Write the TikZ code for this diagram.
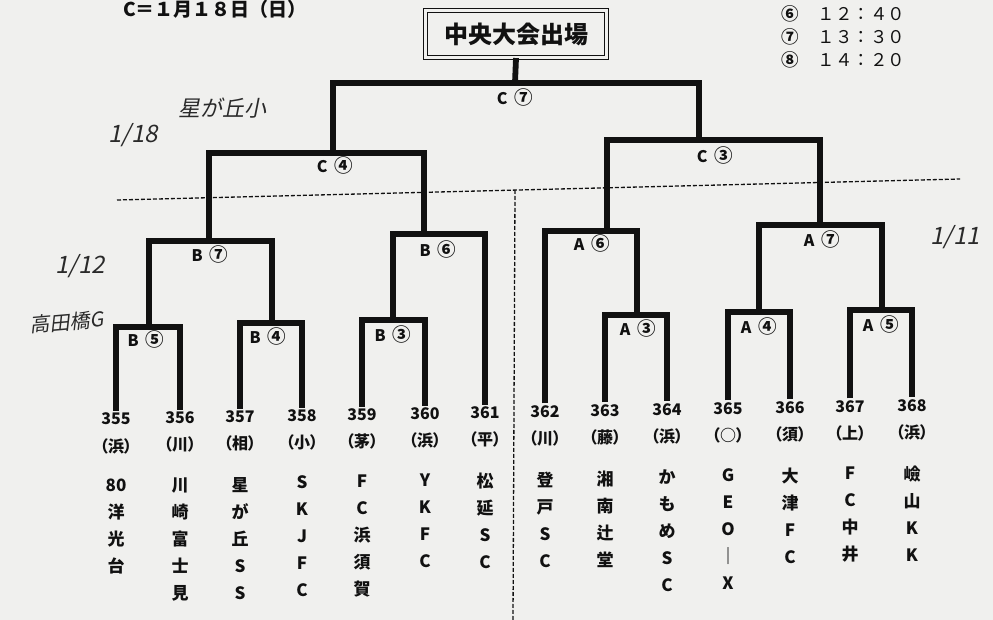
\documentclass[tikz,border=0pt]{standalone}
\usepackage{fontspec}
\setmainfont{Noto Sans CJK JP}
\newfontfamily\handfont[FakeSlant=0.2]{Noto Sans CJK JP}
\definecolor{paper}{HTML}{F0F0EE}
\definecolor{ink}{HTML}{111111}
\definecolor{pencil}{HTML}{2A2A2A}
\newcommand\teamcol[4]{%
  \pgfmathsetmacro\tcy{-0.017*(#2-117)}%
  \node[numtxt] (t#1) at (#2,{419+\tcy}) {#1};
  \node[preftxt] (p#1) at (#2,{446+\tcy}) {（#3）};
  \node[nametxt] (n#1) at (#2,{479+\tcy}) {#4};
}
\newcommand\cnum[1]{{\fontsize{18.5}{18.5}\selectfont #1}}
\begin{document}
\begin{tikzpicture}[x=1pt,y=-1pt,
  bracket/.style={draw=ink, line width=5.8pt, line join=miter},
  mlabel/.style={font=\bfseries\fontsize{16}{16}\selectfont, text=ink, inner sep=0pt},
  numtxt/.style={font=\bfseries\fontsize{16}{16}\selectfont, text=ink, inner sep=2pt},
  preftxt/.style={font=\bfseries\fontsize{16}{16}\selectfont\addfontfeature{RawFeature=+palt}, text=ink, inner sep=0pt},
  nametxt/.style={font=\bfseries\fontsize{17}{27}\selectfont, text=ink, align=center, anchor=north, inner sep=0pt},
  timetxt/.style={font=\fontsize{17.5}{17.5}\selectfont, text=ink, anchor=west, inner sep=0pt},
  hand/.style={font=\handfont\fontsize{22}{22}\selectfont, text=pencil, inner sep=0pt},
  divider/.style={draw=ink, line width=1.3pt, dash pattern=on 4pt off 2pt},
]
\fill[paper] (0,0) rectangle (993,620);
\useasboundingbox (0,0) rectangle (993,620);

% header texts
\node[font=\bfseries\fontsize{19}{19}\selectfont, text=ink, anchor=west, inner sep=0pt] (hdr) at (123,9) {C＝１月１８日（日）};
\node[timetxt] (tm6) at (781,14) {{\bfseries ⑥}\hspace{1.1em}１２：４０};
\node[timetxt] (tm7) at (781,37) {{\bfseries ⑦}\hspace{1.1em}１３：３０};
\node[timetxt] (tm8) at (781,60) {{\bfseries ⑧}\hspace{1.1em}１４：２０};

% title box
\node[draw=ink, double=paper, line width=1.1pt, double distance=2.2pt,
      minimum width=181pt, minimum height=47pt, inner sep=0pt,
      font=\bfseries\fontsize{24}{24}\selectfont, text=ink] (title) at (516,34) {中央大会出場};

% teams
\teamcol{355}{116}{浜}{80\\洋\\光\\台}
\teamcol{356}{180}{川}{川\\崎\\富\\士\\見}
\teamcol{357}{240}{相}{星\\が\\丘\\S\\S}
\teamcol{358}{302}{小}{S\\K\\J\\F\\C}
\teamcol{359}{362}{茅}{F\\C\\浜\\須\\賀}
\teamcol{360}{425}{浜}{Y\\K\\F\\C}
\teamcol{361}{485}{平}{松\\延\\S\\C}
\teamcol{362}{545}{川}{登\\戸\\S\\C}
\teamcol{363}{605}{藤}{湘\\南\\辻\\堂}
\teamcol{364}{667}{浜}{か\\も\\め\\S\\C}
\teamcol{365}{728}{○}{G\\E\\O\\｜\\X}
\teamcol{366}{790}{須}{大\\津\\F\\C}
\teamcol{367}{850}{上}{F\\C\\中\\井}
\teamcol{368}{912}{浜}{嶮\\山\\K\\K}

% match points
\coordinate (C7) at (515,83);
\coordinate (C4) at (333,153);
\coordinate (C3) at (699,140);
\coordinate (B7) at (209,241);
\coordinate (B6) at (424,234);
\coordinate (B5) at (149,327);
\coordinate (B4) at (272,323);
\coordinate (B3) at (393,320);
\coordinate (A6) at (607,231);
\coordinate (A7) at (820,225);
\coordinate (A3) at (637,315);
\coordinate (A4) at (759,312);
\coordinate (A5) at (882,310);

% brackets
\draw[bracket] (title.south) -- (C7);
\draw[bracket] (C4) |- (C7) -| (C3);
\draw[bracket] (B7) |- (C4) -| (B6);
\draw[bracket] (B5) |- (B7) -| (B4);
\draw[bracket] (t355.north) |- (B5) -| (t356.north);
\draw[bracket] (t357.north) |- (B4) -| (t358.north);
\draw[bracket] (B3) |- (B6) -| (t361.north);
\draw[bracket] (t359.north) |- (B3) -| (t360.north);
\draw[bracket] (A6) |- (C3) -| (A7);
\draw[bracket] (t362.north) |- (A6) -| (A3);
\draw[bracket] (t363.north) |- (A3) -| (t364.north);
\draw[bracket] (A4) |- (A7) -| (A5);
\draw[bracket] (t365.north) |- (A4) -| (t366.north);
\draw[bracket] (t367.north) |- (A5) -| (t368.north);

% match labels
\node[mlabel] (lC7) at (515,97) {C\hspace{0.45em}\cnum{⑦}};
\node[mlabel] (lC4) at (335,165) {C\hspace{0.45em}\cnum{④}};
\node[mlabel] (lC3) at (715,155) {C\hspace{0.45em}\cnum{③}};
\node[mlabel] (lB7) at (210,254) {B\hspace{0.45em}\cnum{⑦}};
\node[mlabel] (lB6) at (438,249) {B\hspace{0.45em}\cnum{⑥}};
\node[mlabel] (lB5) at (146,339) {B\hspace{0.45em}\cnum{⑤}};
\node[mlabel] (lB4) at (268,336) {B\hspace{0.45em}\cnum{④}};
\node[mlabel] (lB3) at (393,334) {B\hspace{0.45em}\cnum{③}};
\node[mlabel] (lA6) at (592,243) {A\hspace{0.45em}\cnum{⑥}};
\node[mlabel] (lA7) at (822,239) {A\hspace{0.45em}\cnum{⑦}};
\node[mlabel] (lA3) at (638,328) {A\hspace{0.45em}\cnum{③}};
\node[mlabel] (lA4) at (759,326) {A\hspace{0.45em}\cnum{④}};
\node[mlabel] (lA5) at (881,324) {A\hspace{0.45em}\cnum{⑤}};

% dividers
\coordinate (dL) at (117,200);
\coordinate (dR) at (960,179);
\coordinate (vT) at (515,190);
\coordinate (vB) at (513,620);
\draw[divider] (dL) -- (dR);
\draw[divider] (vT) -- (vB);

% handwritten notes
\node[hand, font=\handfont\fontsize{24}{24}\selectfont] (h118) at (133,135) {1/18};
\node[hand] (hhosh) at (222,108) {星が丘小};
\node[hand, font=\handfont\fontsize{24}{24}\selectfont] (h112) at (80,266) {1/12};
\node[hand, font=\handfont\fontsize{20}{20}\selectfont, rotate=5] (htaka) at (67,322) {高田橋G};
\node[hand, font=\handfont\fontsize{24}{24}\selectfont] (h111) at (955,237) {1/11};
\end{tikzpicture}
\end{document}
